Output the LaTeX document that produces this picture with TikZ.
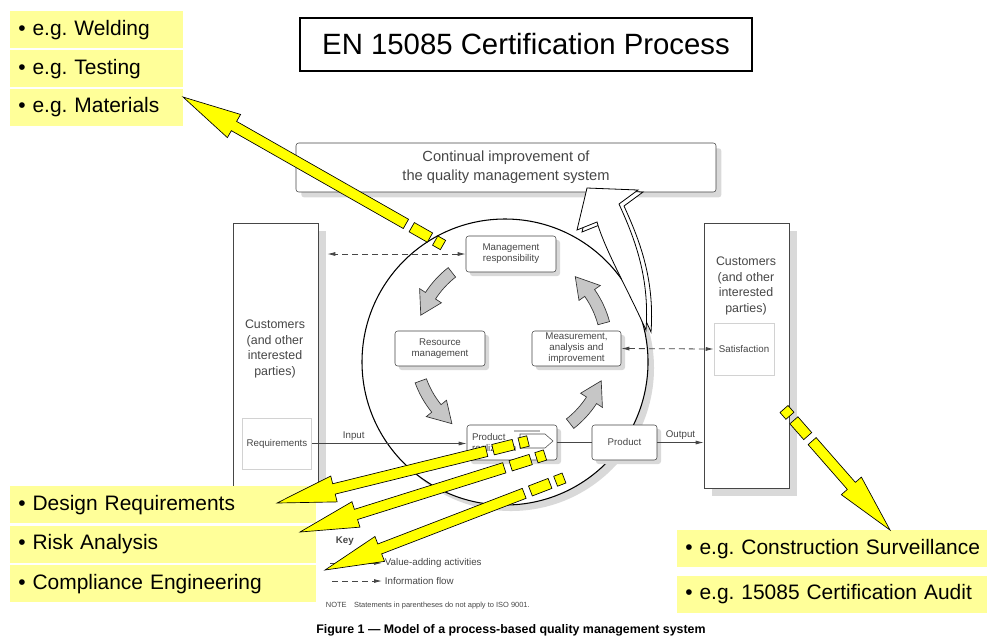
\documentclass[tikz,border=0pt]{standalone}
\usepackage{fontspec}
\setmainfont{Liberation Sans}
\usepackage{xcolor}
\usepackage{tikz}
\usetikzlibrary{arrows.meta, positioning, calc, shadows}
\frenchspacing

\definecolor{note}{RGB}{255,255,153}
\definecolor{hilite}{RGB}{255,255,0}
\definecolor{ink}{RGB}{70,70,70}

% yellow block arrow: #1 = tip, #2 = far end of the broken tail
\newcommand{\pointer}[2]{%
  \coordinate (hb) at ($(#1)!44pt!(#2)$);
  \coordinate (se) at ($(#2)!32pt!(#1)$);
  \coordinate (da) at ($(#2)!27pt!(#1)$);
  \coordinate (db) at ($(#2)!11.25pt!(#1)$);
  \coordinate (dc) at ($(#2)!6.75pt!(#1)$);
  \filldraw[pointer] (#1) -- ($(hb)!10pt!90:(#2)$) -- ($(hb)!4pt!90:(#2)$) -- ($(se)!4pt!90:(#2)$)
    -- ($(se)!4pt!-90:(#2)$) -- ($(hb)!4pt!-90:(#2)$) -- ($(hb)!10pt!-90:(#2)$) -- cycle;
  \filldraw[pointer] ($(da)!4pt!90:(#2)$) -- ($(db)!4pt!90:(#2)$) -- ($(db)!4pt!-90:(#2)$) -- ($(da)!4pt!-90:(#2)$) -- cycle;
  \filldraw[pointer] ($(dc)!4pt!90:(#2)$) -- ($(#2)!4pt!-90:(#1)$) -- ($(#2)!4pt!90:(#1)$) -- ($(dc)!4pt!-90:(#2)$) -- cycle;
}

% grey arrow of the cycle: #1 start, #2 head base, #3 tip (angles round hub)
\newcommand{\cyclearrow}[3]{%
  \filldraw[cyc] ($(hub)+(#1:102)$) arc[start angle=#1, end angle=#2, radius=102]
    -- ($(hub)+(#2:109)$) -- ($(hub)+(#3:96)$) -- ($(hub)+(#2:83)$)
    -- ($(hub)+(#2:90)$) arc[start angle=#2, end angle=#1, radius=90] -- cycle;
}

\begin{document}
\begin{tikzpicture}[x=0.75pt, y=-0.75pt,
    ybox/.style={fill=note, text width=#1, inner xsep=6pt, minimum height=27.75pt, align=left, anchor=north west, font=\fontsize{15.7}{19}\selectfont},
    title/.style={draw, line width=1pt, minimum width=339pt, minimum height=39.75pt, font=\fontsize{22}{26}\selectfont},
    improve/.style={draw=ink, fill=white, rounded corners=2pt, minimum width=315pt, minimum height=36.75pt, align=center, text=ink, font=\fontsize{11}{14}\selectfont, drop shadow={shadow xshift=4pt, shadow yshift=-4pt, fill=gray!30, opacity=1}},
    cust/.style={draw=ink, fill=white, minimum width=63.75pt, minimum height=198.75pt, drop shadow={shadow xshift=6pt, shadow yshift=-6pt, fill=gray!30, opacity=1}},
    sub/.style={draw=gray!35, fill=white, minimum width=#1, minimum height=38.25pt, text=ink, font=\fontsize{7.3}{8.5}\selectfont},
    act/.style={draw=ink, fill=white, rounded corners=2pt, minimum height=26.25pt, align=center, inner sep=1pt, text=ink, font=\fontsize{7.3}{8.2}\selectfont, drop shadow={shadow xshift=3pt, shadow yshift=-3pt, fill=gray!30, opacity=1}},
    lbl/.style={inner sep=2pt, text=ink, font=\fontsize{7.3}{8.5}\selectfont},
    flow/.style={-{Latex[length=6pt, width=3pt]}, ink, line width=0.6pt},
    info/.style={{Latex[length=6pt, width=3pt]}-{Latex[length=6pt, width=3pt]}, ink, dash pattern=on 4.5pt off 3pt, line width=0.6pt},
    cyc/.style={fill=gray!45, draw=gray!40!black, line width=0.5pt},
    bigarrow/.style={fill=white, draw=black, line width=0.6pt},
    pointer/.style={fill=hilite, draw=black, line width=0.5pt}
  ]
  \useasboundingbox (0,0) rectangle (987,637);

  % Title
  \node[title] (ttl) at (526,44.5) {EN 15085 Certification Process};

  % ISO 9001 model
  \node[improve] (ci) at (506,167.5) {Continual improvement of\\the quality management system};
  \node[cust] (custL) at (275.5,355.5) {};
  \node[cust] (custR) at (746.5,355.5) {};
  \node[lbl, align=center, font=\fontsize{9.3}{11.6}\selectfont] (custLtxt) at (275,349) {Customers\\(and other\\interested\\parties)};
  \node[lbl, align=center, font=\fontsize{9.3}{11.6}\selectfont] (custRtxt) at (746,286) {Customers\\(and other\\interested\\parties)};
  \node[sub=49.5pt] (req) at (277,443.5) {Requirements};
  \node[sub=45pt, minimum height=39pt] (sat) at (744,349) {Satisfaction};

  \coordinate (hub) at (511,348);
  \fill[gray!30] (511,368) circle[radius=143];
  \filldraw[fill=white, draw=black, line width=0.8pt] (505,362) circle[radius=143];

  \node[act, minimum width=67.5pt, minimum height=27pt] (mgmt) at (511,254) {Management\\responsibility};
  \node[act, minimum width=67.5pt] (res) at (440,348.5) {Resource\\management};
  \node[act, minimum width=66.75pt] (meas) at (576.5,348.5) {Measurement,\\analysis and\\improvement};
  \node[act, minimum width=67.5pt, text width=60pt, align=left, inner xsep=3.75pt] (real) at (512,442.5) {Product\\realization};
  \node[act, minimum width=48.75pt] (prd) at (624.5,442.5) {Product};
  \draw[gray!55, line width=1.4pt] (514,431) -- (540,431);
  \filldraw[fill=white, draw=gray!60!black, line width=0.4pt] (520,434) -- (545,434) -- (553,441) -- (545,448) -- (520,448) -- cycle;

  \cyclearrow{-128}{-147}{-160}
  \cyclearrow{-200}{-219}{-232}
  \cyclearrow{-308}{-327}{-340}
  \cyclearrow{-15}{-35}{-48}

  % Edges
  \draw[info] (mgmt.west) -- ($(custL.east |- mgmt.west)+(6.75pt,0)$);
  \draw[info] (meas.east) -- (sat.west);
  \draw[flow] (req.east) -- node[lbl, above, pos=0.27] {Input} (req.east -| real.west);
  \draw[ink, line width=0.6pt] (real.east) -- (prd.west);
  \draw[flow] (prd.east) -- node[lbl, above] {Output} (custR.west |- prd.east);

  % rising arrow out of the circle
  \begin{scope}[shift={(5,2)}]
    \filldraw[bigarrow] (646,330) .. controls (628,290) and (605,250) .. (597,222) -- (577,230) -- (587,188)
      -- (638,190) -- (619,204) .. controls (633,235) and (650,275) .. (646,330) -- cycle;
  \end{scope}
  \filldraw[bigarrow] (646,330) .. controls (628,290) and (605,250) .. (597,222) -- (577,230) -- (587,188)
    -- (638,190) -- (619,204) .. controls (633,235) and (650,275) .. (646,330) -- cycle;

  % Key and notes
  \node[lbl, anchor=west, font=\bfseries\fontsize{7.3}{8.5}\selectfont] (key) at (333,541) {Key};
  \node[lbl, anchor=west] (vat) at (382,563) {Value-adding activities};
  \node[lbl, anchor=west] (inf) at (382,581) {Information flow};
  \coordinate (k1) at (330,563);
  \coordinate (k2) at (332,581);
  \draw[flow] (k1) -- (vat.west);
  \draw[flow, dash pattern=on 4.5pt off 3pt] (k2) -- (inf.west);
  \node[lbl, anchor=west, font=\fontsize{5.6}{7}\selectfont] (nte) at (323,606) {NOTE\quad Statements in parentheses do not apply to ISO 9001.};
  \node[lbl, text=black, font=\bfseries\fontsize{9.3}{11}\selectfont] (cap) at (511,630) {Figure 1 — Model of a process-based quality management system};

  % Yellow notes
  \node[ybox=117.75pt] (wld) at (10,11) {• e.g. Welding};
  \node[ybox=117.75pt, below=1pt of wld] (tst) {• e.g. Testing};
  \node[ybox=117.75pt, below=1pt of tst] (mat) {• e.g. Materials};
  \node[ybox=217.5pt] (dreq) at (10,486) {• Design Requirements};
  \node[ybox=217.5pt, below=1.5pt of dreq] (risk) {• Risk Analysis};
  \node[ybox=217.5pt, below=1.5pt of risk] (comp) {• Compliance Engineering};
  \node[ybox=220.5pt] (surv) at (677,530) {\mbox{• e.g. Construction Surveillance}};
  \node[ybox=220.5pt, below=6pt of surv] (audit) {\mbox{• e.g. 15085 Certification Audit}};

  % Yellow pointers
  \coordinate (t1) at (183,97);  \coordinate (e1) at (443,245);
  \coordinate (t2) at (277,503); \coordinate (e2) at (528,441);
  \coordinate (t3) at (300,532); \coordinate (e3) at (545,455);
  \coordinate (t4) at (325,570); \coordinate (e4) at (564,478);
  \coordinate (t5) at (890,530); \coordinate (e5) at (784,409);
  \pointer{t1}{e1}
  \pointer{t2}{e2}
  \pointer{t3}{e3}
  \pointer{t4}{e4}
  \pointer{t5}{e5}

\end{tikzpicture}
\end{document}
